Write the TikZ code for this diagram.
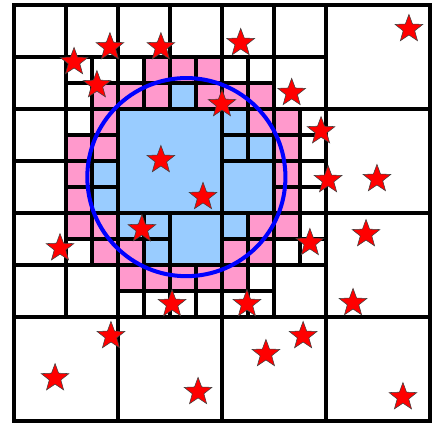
\documentclass[tikz,border=0pt]{standalone}
\usetikzlibrary{shapes.geometric}
\definecolor{cellpink}{RGB}{255,153,204}
\definecolor{cellblue}{RGB}{153,204,255}
\begin{document}
\begin{tikzpicture}[x=0.5cm,y=0.5cm,
    pinkcell/.style={fill=cellpink},
    bluecell/.style={fill=cellblue},
    gridline/.style={line width=1.9pt,black,line cap=rect},
    starpt/.style={star,star points=5,star point ratio=2.4,fill=red,
      draw=black!75,line width=0.3pt,minimum size=0.56cm,inner sep=0pt}
    ]
    \useasboundingbox (-0.538,-0.154) rectangle (16.077,16.192);
    \fill[bluecell] (4,8) rectangle (8,12);
    \fill[bluecell] (8,8) rectangle (10,10);
    \fill[bluecell] (6,6) rectangle (8,8);
    \foreach \k/\m in {6/3,8/4,8/5,9/5,3/6,3/7,4/8,5/8,8/8,5/9}
      \fill[bluecell] (\k,15-\m) rectangle ++(1,1);
    \foreach \k/\m in {5/2,6/2,7/2,3/3,4/3,5/3,7/3,8/3,9/3,3/4,9/4,10/4,
      2/5,3/5,10/5,2/6,10/6,2/7,10/7,2/8,3/8,9/8,10/8,3/9,4/9,8/9,9/9,
      4/10,5/10,6/10,7/10,8/10}
      \fill[pinkcell] (\k,15-\m) rectangle ++(1,1);
    \foreach \c/\r in {0/0,1/0,2/0,0/1,2/1,0/2,1/2,2/2}
      \draw[gridline] (4*\c+2,12-4*\r) -- ++(0,4) (4*\c,14-4*\r) -- ++(4,0);
    \foreach \i/\j in {1/1,2/1,3/1,4/1,1/2,1/3,4/2,5/2,5/3,1/4,2/4,2/5,3/5,
      4/4,5/4,4/5}
      \draw[gridline] (2*\i+1,14-2*\j) -- ++(0,2) (2*\i,15-2*\j) -- ++(2,0);
    \draw[gridline] (0,0) grid[step=2cm] (16,16);
    \draw[gridline] (0,0) rectangle (16,16);
    \coordinate (ctr) at (6.63,9.38);
    \draw[blue,line width=2.2pt] (ctr) circle (3.81);
    \node[starpt] (s1) at (15.19,15.08) {};
    \node[starpt] (s2) at (2.31,13.81) {};
    \node[starpt] (s3) at (3.69,14.38) {};
    \node[starpt] (s4) at (5.65,14.38) {};
    \node[starpt] (s5) at (8.72,14.54) {};
    \node[starpt] (s6) at (3.19,12.92) {};
    \node[starpt] (s7) at (8.00,12.19) {};
    \node[starpt] (s8) at (10.68,12.62) {};
    \node[starpt] (s9) at (11.81,11.15) {};
    \node[starpt] (s10) at (5.65,10.04) {};
    \node[starpt] (s11) at (7.27,8.62) {};
    \node[starpt] (s12) at (12.08,9.27) {};
    \node[starpt] (s13) at (13.96,9.31) {};
    \node[starpt] (s14) at (4.92,7.38) {};
    \node[starpt] (s15) at (1.77,6.65) {};
    \node[starpt] (s16) at (11.38,6.85) {};
    \node[starpt] (s17) at (13.54,7.19) {};
    \node[starpt] (s18) at (6.08,4.50) {};
    \node[starpt] (s19) at (8.96,4.50) {};
    \node[starpt] (s20) at (13.04,4.54) {};
    \node[starpt] (s21) at (3.73,3.27) {};
    \node[starpt] (s22) at (11.12,3.27) {};
    \node[starpt] (s23) at (9.69,2.58) {};
    \node[starpt] (s24) at (1.58,1.65) {};
    \node[starpt] (s25) at (7.08,1.12) {};
    \node[starpt] (s26) at (14.96,0.92) {};
  \end{tikzpicture}
\end{document}
